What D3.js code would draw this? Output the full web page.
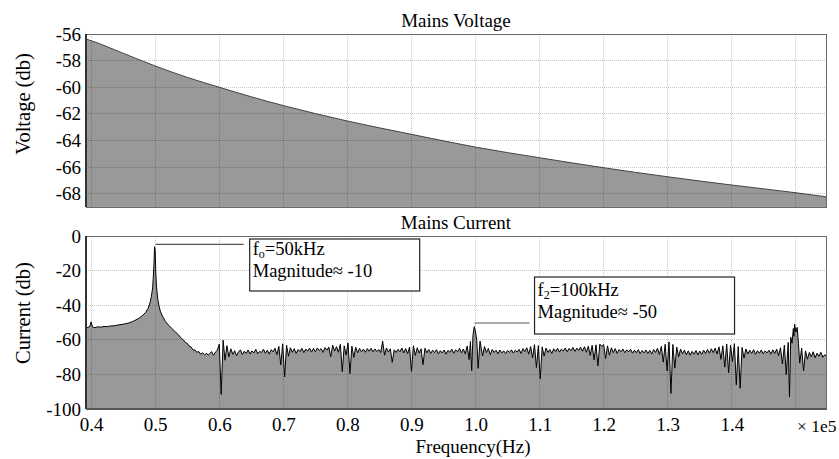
<!DOCTYPE html>
<html>
<head>
<meta charset="utf-8">
<script src="https://cdn.jsdelivr.net/npm/d3@7"></script>
<style>
  html, body { margin: 0; padding: 0; background: #fff; }
  svg { display: block; font-family: "Liberation Serif", "Times New Roman", serif; }
</style>
</head>
<body>
<div id="chart"></div>
<script>
// ---------- DATA ----------
const voltageTitle = "Mains Voltage";
const currentTitle = "Mains Current";
const voltageAxisLabel = "Voltage (db)";
const currentAxisLabel = "Current (db)";
const freqAxisLabel = "Frequency(Hz)";
const freqMultiplier = "× 1e5";

const xDomain = [0.392, 1.547];
const xGridTicks = [0.4, 0.5, 0.6, 0.7, 0.8, 0.9, 1.0, 1.1, 1.2, 1.3, 1.4, 1.5];
const xLabelTicks = [0.4, 0.5, 0.6, 0.7, 0.8, 0.9, 1.0, 1.1, 1.2, 1.3, 1.4];

const voltageDomain = [-69, -56];
const voltageTicks = [-56, -58, -60, -62, -64, -66, -68];
const currentDomain = [-100, 0];
const currentTicks = [0, -20, -40, -60, -80, -100];

// Mains voltage spectrum (frequency ×1e5 Hz, dB)
const voltageFreq = [0.392, 0.4, 0.45, 0.5, 0.55, 0.6, 0.65, 0.7, 0.8, 0.9, 1.0, 1.1, 1.2, 1.3, 1.4, 1.5, 1.547];
const voltageDb   = [-56.38, -56.5, -57.45, -58.4, -59.26, -60.0, -60.72, -61.38, -62.54, -63.54, -64.5, -65.3, -66.05, -66.73, -67.35, -67.93, -68.23];

// Mains current spectrum, low-frequency part and resonance at 50 kHz
const currentMain = [
 [0.392,-53.4],[0.395,-52.8],[0.398,-52.3],[0.400,-49.6],[0.402,-52.6],[0.406,-53.0],[0.410,-52.5],[0.415,-52.7],
 [0.420,-52.3],[0.425,-52.4],[0.430,-52.0],[0.435,-51.9],[0.440,-51.6],[0.445,-51.3],[0.450,-51.0],[0.455,-50.6],
 [0.460,-50.1],[0.465,-49.4],[0.470,-48.5],[0.475,-47.4],[0.480,-46.0],[0.485,-44.2],[0.489,-41.8],[0.492,-38.5],
 [0.494,-35.0],[0.496,-30.0],[0.497,-24.0],[0.498,-17.0],[0.499,-6.2],[0.500,-8.5],[0.501,-22.0],[0.502,-29.0],
 [0.504,-36.5],[0.506,-40.5],[0.508,-43.5],[0.512,-46.8],[0.516,-49.4],[0.521,-51.6],[0.526,-53.5],[0.531,-55.3],
 [0.536,-57.0],[0.541,-59.2],[0.544,-60.0],[0.547,-61.5],[0.550,-62.0],[0.553,-63.6],[0.556,-64.2],[0.559,-65.8],
 [0.562,-65.9],[0.565,-67.2],[0.568,-66.8],[0.571,-68.3],[0.574,-67.5],[0.577,-68.6],[0.580,-67.9],[0.583,-68.8]
];

// Mains current spectrum, noise floor with harmonics
const currentNoise = [
 [0.585,-68.0],[0.588,-66.8],[0.591,-68.9],[0.594,-67.1],[0.597,-66.0],[0.600,-62.5],[0.603,-91.5],[0.606,-60.2],
 [0.609,-71.8],[0.612,-63.4],[0.615,-69.9],[0.618,-65.2],[0.621,-68.4],[0.624,-66.3],[0.627,-69.2],[0.630,-67.0],
 [0.633,-65.8],[0.636,-68.5],[0.639,-66.6],[0.642,-67.9],[0.645,-65.9],[0.648,-68.2],[0.651,-66.4],[0.654,-67.6],
 [0.657,-65.5],[0.660,-68.1],[0.663,-66.7],[0.666,-67.3],[0.669,-65.4],[0.672,-67.8],[0.675,-66.0],[0.678,-68.3],
 [0.681,-65.7],[0.684,-67.0],[0.687,-64.9],[0.690,-68.6],[0.693,-63.8],[0.696,-74.5],[0.699,-62.3],
 [0.702,-81.5],[0.705,-63.0],[0.708,-69.5],[0.711,-64.6],[0.714,-67.2],[0.717,-65.1],[0.720,-67.9],[0.723,-65.6],
 [0.726,-66.8],[0.729,-64.9],[0.732,-67.4],[0.735,-65.3],[0.738,-66.6],[0.741,-64.8],[0.744,-67.1],[0.747,-65.0],
 [0.750,-66.9],[0.753,-64.7],[0.756,-66.2],[0.759,-65.1],[0.762,-67.3],[0.765,-64.5],[0.768,-66.0],[0.771,-64.2],
 [0.774,-69.8],[0.777,-63.1],[0.780,-66.5],[0.783,-64.0],[0.786,-67.2],[0.789,-62.6],[0.792,-78.4],[0.795,-63.5],
 [0.798,-68.8],
 [0.801,-61.8],[0.804,-79.6],[0.807,-63.7],[0.810,-70.2],[0.813,-64.3],[0.816,-67.5],[0.819,-65.0],[0.822,-66.9],
 [0.825,-65.4],[0.828,-67.2],[0.831,-65.1],[0.834,-66.6],[0.837,-64.9],[0.840,-67.0],[0.843,-65.3],[0.846,-66.8],
 [0.849,-65.6],[0.852,-67.4],[0.855,-60.8],[0.858,-68.9],[0.861,-64.7],[0.864,-67.1],[0.867,-65.2],[0.870,-73.0],
 [0.873,-65.8],[0.876,-67.3],[0.879,-65.5],[0.882,-66.9],[0.885,-64.8],[0.888,-67.6],[0.891,-65.1],[0.894,-68.0],
 [0.897,-64.2],
 [0.900,-78.2],[0.903,-63.5],[0.906,-69.0],[0.909,-64.6],[0.912,-67.7],[0.915,-65.2],[0.918,-74.4],[0.921,-64.9],
 [0.924,-67.5],[0.927,-65.6],[0.930,-67.9],[0.933,-66.0],[0.936,-67.4],[0.939,-65.7],[0.942,-68.1],[0.945,-66.3],
 [0.948,-67.6],[0.951,-65.9],[0.954,-68.3],[0.957,-66.1],[0.960,-67.2],[0.963,-65.4],[0.966,-67.8],[0.969,-65.8],
 [0.972,-66.9],[0.975,-64.9],[0.978,-67.5],[0.981,-65.3],[0.984,-68.2],[0.987,-63.6],[0.990,-71.4],[0.992,-61.0],
 [0.994,-77.8],[0.996,-57.5],[0.998,-52.4],[1.000,-55.5],[1.002,-60.5],[1.004,-76.5],
 [1.007,-60.8],[1.011,-69.3],[1.014,-63.9],[1.017,-67.4],[1.020,-65.0],[1.023,-68.6],[1.026,-65.6],[1.029,-67.3],
 [1.032,-66.0],[1.035,-68.1],[1.038,-65.9],[1.041,-67.6],[1.044,-66.4],[1.047,-68.0],[1.050,-66.2],[1.053,-67.3],
 [1.056,-65.8],[1.059,-67.7],[1.062,-66.0],[1.065,-67.1],[1.068,-65.5],[1.071,-67.9],[1.074,-65.1],[1.077,-66.8],
 [1.080,-64.6],[1.083,-68.3],[1.086,-63.9],[1.089,-70.5],[1.092,-62.8],[1.095,-76.0],[1.098,-63.4],
 [1.101,-82.6],[1.104,-64.1],[1.107,-69.4],[1.110,-64.8],[1.113,-67.3],[1.116,-65.6],[1.119,-67.9],[1.122,-65.2],
 [1.125,-66.8],[1.128,-64.9],[1.131,-67.1],[1.134,-65.4],[1.137,-66.5],[1.140,-64.7],[1.143,-66.9],[1.146,-65.0],
 [1.149,-66.3],[1.152,-64.4],[1.155,-66.7],[1.158,-64.8],[1.161,-66.1],[1.164,-64.3],[1.167,-66.6],[1.170,-64.0],
 [1.173,-67.2],[1.176,-63.7],[1.179,-69.0],[1.182,-63.2],[1.185,-71.6],[1.188,-62.9],[1.191,-75.0],[1.194,-62.5],
 [1.197,-63.8],
 [1.200,-62.8],[1.203,-70.8],[1.206,-63.5],[1.209,-68.9],[1.212,-64.6],[1.215,-67.4],[1.218,-65.1],[1.221,-67.8],
 [1.224,-65.6],[1.227,-66.9],[1.230,-65.3],[1.233,-67.5],[1.236,-65.8],[1.239,-67.0],[1.242,-65.5],[1.245,-67.7],
 [1.248,-66.0],[1.251,-67.4],[1.254,-65.7],[1.257,-68.0],[1.260,-66.2],[1.263,-67.6],[1.266,-65.9],[1.269,-67.9],
 [1.272,-66.1],[1.275,-68.2],[1.278,-65.6],[1.281,-67.3],[1.284,-64.9],[1.287,-68.5],[1.290,-63.8],[1.293,-72.9],
 [1.296,-62.6],[1.299,-78.0],
 [1.302,-61.2],[1.305,-91.0],[1.308,-62.7],[1.311,-76.4],[1.314,-64.2],[1.317,-69.8],[1.320,-65.3],[1.323,-68.1],
 [1.326,-66.0],[1.329,-68.6],[1.332,-66.4],[1.335,-68.9],[1.338,-66.7],[1.341,-68.3],[1.344,-66.2],[1.347,-68.7],
 [1.350,-66.5],[1.353,-68.4],[1.356,-66.0],[1.359,-68.0],[1.362,-65.6],[1.365,-67.7],[1.368,-65.2],[1.371,-67.4],
 [1.374,-64.8],[1.377,-68.2],[1.380,-64.1],[1.383,-71.3],[1.386,-63.5],[1.389,-75.8],[1.392,-62.4],[1.395,-79.0],
 [1.398,-63.0],
 [1.401,-72.5],[1.404,-62.2],[1.407,-86.0],[1.410,-63.9],[1.413,-88.0],[1.416,-64.4],[1.419,-70.6],[1.422,-65.3],
 [1.425,-68.2],[1.428,-66.0],[1.431,-67.9],[1.434,-65.7],[1.437,-68.4],[1.440,-66.3],[1.443,-67.8],[1.446,-65.9],
 [1.449,-68.1],[1.452,-66.4],[1.455,-67.6],[1.458,-66.0],[1.461,-68.3],[1.464,-65.8],[1.467,-67.9],[1.470,-65.4],
 [1.473,-69.1],[1.476,-64.6],[1.479,-74.0],[1.482,-63.1],[1.485,-80.2],[1.488,-61.5],[1.490,-93.0],[1.492,-58.5],
 [1.494,-62.0],[1.496,-53.5],[1.497,-58.0],[1.498,-51.0],[1.500,-55.5],[1.502,-52.8],[1.504,-62.0],
 [1.506,-73.5],[1.509,-64.8],[1.512,-78.0],[1.515,-66.4],[1.518,-71.2],[1.521,-67.3],[1.524,-69.8],[1.527,-66.9],
 [1.530,-70.4],[1.533,-67.8],[1.536,-69.5],[1.539,-67.2],[1.542,-70.1],[1.545,-68.6],[1.547,-69.4]
];

// Annotations
const annoFreq = [0.5, 1.0];
const annoLevel = [-4.8, -50.3];
const annoLine1 = [["f", "o", "=50kHz"], ["f", "2", "=100kHz"]];
const annoLine2 = ["Magnitude≈ -10", "Magnitude≈ -50"];

// ---------- LAYOUT ----------
const W = 839, H = 459;
const left = 86, right = 826;
const topPlot = { top: 34, bottom: 207 };
const botPlot = { top: 236, bottom: 409 };
const fillColor = "#999999";

const svg = d3.select("#chart").append("svg").attr("width", W).attr("height", H);

const x = d3.scaleLinear().domain(xDomain).range([left, right]);
const yV = d3.scaleLinear().domain(voltageDomain).range([topPlot.bottom, topPlot.top]);
const yC = d3.scaleLinear().domain(currentDomain).range([botPlot.bottom, botPlot.top]);

const defs = svg.append("defs");
defs.append("clipPath").attr("id", "clipTop").append("rect")
  .attr("x", left).attr("y", topPlot.top).attr("width", right - left).attr("height", topPlot.bottom - topPlot.top);
defs.append("clipPath").attr("id", "clipBot").append("rect")
  .attr("x", left).attr("y", botPlot.top).attr("width", right - left).attr("height", botPlot.bottom - botPlot.top);

// ----- top plot -----
const vData = voltageFreq.map((f, i) => [f, voltageDb[i]]);
const gTop = svg.append("g").attr("clip-path", "url(#clipTop)");
gTop.append("path").datum(vData)
  .attr("d", d3.area().x(d => x(d[0])).y0(yV(voltageDomain[0])).y1(d => yV(d[1])).curve(d3.curveMonotoneX))
  .attr("fill", fillColor);
gTop.append("path").datum(vData)
  .attr("d", d3.line().x(d => x(d[0])).y(d => yV(d[1])).curve(d3.curveMonotoneX))
  .attr("fill", "none").attr("stroke", "#444").attr("stroke-width", 1);

// ----- bottom plot -----
const cData = currentMain.concat(currentNoise);
const gBot = svg.append("g").attr("clip-path", "url(#clipBot)");
gBot.append("path").datum(cData)
  .attr("d", d3.area().x(d => x(d[0])).y0(yC(currentDomain[0])).y1(d => yC(d[1])))
  .attr("fill", fillColor);
gBot.append("path").datum(cData)
  .attr("d", d3.line().x(d => x(d[0])).y(d => yC(d[1])))
  .attr("fill", "none").attr("stroke", "#000").attr("stroke-width", 1).attr("stroke-linejoin", "miter");

// ----- grids -----
function grid(yScale, ticks, plot) {
  const g = svg.append("g");
  g.selectAll("line.v").data(xGridTicks).enter().append("line")
    .attr("x1", d => x(d)).attr("x2", d => x(d)).attr("y1", plot.top).attr("y2", plot.bottom);
  g.selectAll("line.h").data(ticks).enter().append("line")
    .attr("x1", left).attr("x2", right).attr("y1", d => yScale(d)).attr("y2", d => yScale(d));
  g.selectAll("line").attr("stroke", "rgba(0,0,0,0.22)").attr("stroke-width", 1)
    .attr("stroke-dasharray", "1,1").attr("shape-rendering", "crispEdges");
}
grid(yV, voltageTicks, topPlot);
grid(yC, currentTicks, botPlot);

// ----- frames -----
function frame(plot) {
  svg.append("rect").attr("x", left).attr("y", plot.top).attr("width", right - left).attr("height", plot.bottom - plot.top)
    .attr("fill", "none").attr("stroke", "#6a6a6a").attr("stroke-width", 1).attr("shape-rendering", "crispEdges");
  svg.append("line").attr("x1", left).attr("x2", left).attr("y1", plot.top).attr("y2", plot.bottom)
    .attr("stroke", "#333").attr("stroke-width", 1.2).attr("shape-rendering", "crispEdges");
}
frame(topPlot);
frame(botPlot);
svg.append("line").attr("x1", left).attr("x2", right).attr("y1", botPlot.bottom).attr("y2", botPlot.bottom)
  .attr("stroke", "#555").attr("stroke-width", 1.2).attr("shape-rendering", "crispEdges");

// ----- axes -----
const fmtInt = d => String(d);
const axV = svg.append("g").attr("transform", `translate(${left},0)`)
  .call(d3.axisLeft(yV).tickValues(voltageTicks).tickSize(0).tickPadding(5).tickFormat(fmtInt));
const axC = svg.append("g").attr("transform", `translate(${left},0)`)
  .call(d3.axisLeft(yC).tickValues(currentTicks).tickSize(0).tickPadding(5).tickFormat(fmtInt));
const axX = svg.append("g").attr("transform", `translate(0,${botPlot.bottom})`)
  .call(d3.axisBottom(x).tickValues(xLabelTicks).tickSize(0).tickPadding(9).tickFormat(d3.format(".1f")));
[axV, axC, axX].forEach(a => {
  a.select(".domain").remove();
  a.selectAll("text").attr("font-family", "Liberation Serif, Times New Roman, serif")
    .attr("font-size", 19).attr("fill", "#000");
});

svg.append("text").attr("x", 797).attr("y", 432).attr("text-anchor", "start")
  .attr("font-size", 17.5).text(freqMultiplier);

// ----- titles -----
svg.append("text").attr("x", (left + right) / 2).attr("y", 27).attr("text-anchor", "middle")
  .attr("font-size", 19).text(voltageTitle);
svg.append("text").attr("x", (left + right) / 2).attr("y", 229).attr("text-anchor", "middle")
  .attr("font-size", 19).text(currentTitle);
svg.append("text").attr("transform", "translate(30,104) rotate(-90)").attr("text-anchor", "middle")
  .attr("font-size", 20.5).text(voltageAxisLabel);
svg.append("text").attr("transform", "translate(30,313) rotate(-90)").attr("text-anchor", "middle")
  .attr("font-size", 20.5).text(currentAxisLabel);
svg.append("text").attr("x", 473).attr("y", 453).attr("text-anchor", "middle")
  .attr("font-size", 19).text(freqAxisLabel);

// ----- annotations -----
const annoLayout = [
  { lineLen: 88, boxGap: 6, boxW: 170, boxH: 52, boxDy: -5.3, t1: 16, t2: 38 },
  { lineLen: 55, boxGap: 5, boxW: 200, boxH: 57, boxDy: -46, t1: 19, t2: 41 }
];
annoFreq.forEach((f, i) => {
  const L = annoLayout[i];
  const x0 = x(f) + (i === 0 ? 0.5 : -1), y0 = yC(annoLevel[i]);
  svg.append("line").attr("x1", x0).attr("x2", x0 + L.lineLen).attr("y1", y0).attr("y2", y0)
    .attr("stroke", "#555").attr("stroke-width", 1.2);
  const bx = x0 + L.lineLen + L.boxGap, by = y0 + L.boxDy;
  svg.append("rect").attr("x", bx).attr("y", by).attr("width", L.boxW).attr("height", L.boxH)
    .attr("fill", "#fff").attr("stroke", "#222").attr("stroke-width", 1.2);
  const t = svg.append("text").attr("x", bx + 3).attr("y", by + L.t1).attr("font-size", 18.5);
  t.append("tspan").text(annoLine1[i][0]);
  t.append("tspan").attr("font-size", 12).attr("dy", 3).text(annoLine1[i][1]);
  t.append("tspan").attr("dy", -3).text(annoLine1[i][2]);
  svg.append("text").attr("x", bx + 3).attr("y", by + L.t2).attr("font-size", 18.5).text(annoLine2[i]);
});
</script>
</body>
</html>
